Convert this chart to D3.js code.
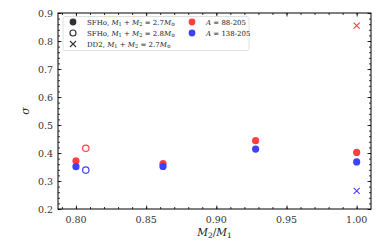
<!DOCTYPE html>
<html>
<head>
<meta charset="utf-8">
<script src="https://cdn.jsdelivr.net/npm/d3@7"></script>
<style>
  body { margin: 0; background: #fff; }
  text { font-family: "DejaVu Serif", serif; }
</style>
</head>
<body>
<div id="chart"></div>
<script>
// mass ratio M2/M1 for each run
const ratios27 = [0.800, 0.862, 0.928, 1.000];
const wide27 = [0.372, 0.362, 0.444, 0.402];    // A = 88-205
const narrow27 = [0.351, 0.352, 0.414, 0.368];  // A = 138-205
const ratios28 = [0.807];
const wide28 = [0.417];
const narrow28 = [0.339];
const ratiosDD2 = [1.000];
const wideDD2 = [0.855];
const narrowDD2 = [0.265];
const xTicks = [0.80, 0.85, 0.90, 0.95, 1.00];
const yTicks = [0.2, 0.3, 0.4, 0.5, 0.6, 0.7, 0.8, 0.9];

const width = 390, height = 244;
const margin = { left: 58, right: 19, top: 13, bottom: 35 };

const svg = d3.select('#chart').append('svg')
    .attr('width', width)
    .attr('height', height);

const x = d3.scaleLinear().domain([0.7872, 1.0102]).range([margin.left, width - margin.right]);
const y = d3.scaleLinear().domain([0.2, 0.9]).range([height - margin.bottom, margin.top]);

const red = 'rgb(255,64,64)', blue = 'rgb(64,64,255)';

// ticks on all four sides, pointing inward
const xMinor = d3.range(79, 101).map(d => d / 100);
const yMinor = d3.range(10, 46).map(d => d / 50);
const x0 = margin.left, x1 = width - margin.right, y0 = height - margin.bottom, y1 = margin.top;

function ticks(axis, values, size, tx, ty) {
    svg.append('g').attr('transform', `translate(${tx},${ty})`)
        .call(axis.tickValues(values).tickSize(size).tickFormat(''))
        .call(g => g.select('.domain').remove())
        .call(g => g.selectAll('line').attr('stroke', '#000').attr('stroke-width', 0.8));
}
ticks(d3.axisTop(x), xMinor, 2, 0, y0);
ticks(d3.axisTop(x), xTicks, 3.5, 0, y0);
ticks(d3.axisBottom(x), xMinor, 2, 0, y1);
ticks(d3.axisBottom(x), xTicks, 3.5, 0, y1);
ticks(d3.axisRight(y), yMinor, 2, x0, 0);
ticks(d3.axisRight(y), yTicks, 3.5, x0, 0);
ticks(d3.axisLeft(y), yMinor, 2, x1, 0);
ticks(d3.axisLeft(y), yTicks, 3.5, x1, 0);

// tick labels
svg.append('g').selectAll('text').data(xTicks).enter().append('text')
    .attr('x', d => x(d)).attr('y', y0 + 14)
    .attr('text-anchor', 'middle').attr('font-size', 9.5).attr('fill', '#333')
    .text(d => d.toFixed(2));
svg.append('g').selectAll('text').data(yTicks).enter().append('text')
    .attr('x', x0 - 5).attr('y', d => y(d) + 3.5)
    .attr('text-anchor', 'end').attr('font-size', 9.5).attr('fill', '#333')
    .text(d => d.toFixed(1));

// frame
svg.append('rect').attr('x', x0).attr('y', y1).attr('width', x1 - x0).attr('height', y0 - y1)
    .attr('fill', 'none').attr('stroke', '#000').attr('stroke-width', 1);

// axis labels
const xl = svg.append('text').attr('x', (x0 + x1) / 2).attr('y', 236)
    .attr('text-anchor', 'middle').attr('font-size', 10.5).attr('fill', '#222');
xl.append('tspan').attr('font-style', 'italic').text('M');
xl.append('tspan').attr('font-size', 7.5).attr('dy', 2).text('2');
xl.append('tspan').attr('dy', -2).text('/');
xl.append('tspan').attr('font-style', 'italic').text('M');
xl.append('tspan').attr('font-size', 7.5).attr('dy', 2).text('1');

svg.append('text').attr('transform', `translate(29,${(y0 + y1) / 2}) rotate(-90)`)
    .attr('text-anchor', 'middle').attr('font-size', 11).attr('font-style', 'italic')
    .attr('fill', '#222').text('σ');

// data marks
function filled(xs, ys, color) {
    svg.append('g').selectAll('circle').data(xs).enter().append('circle')
        .attr('cx', d => x(d)).attr('cy', (d, i) => y(ys[i])).attr('r', 3.6)
        .attr('fill', color);
}
function open(xs, ys, color) {
    svg.append('g').selectAll('circle').data(xs).enter().append('circle')
        .attr('cx', d => x(d)).attr('cy', (d, i) => y(ys[i])).attr('r', 3.2)
        .attr('fill', 'none').attr('stroke', color).attr('stroke-width', 1.2);
}
function cross(xs, ys, color) {
    svg.append('g').selectAll('path').data(xs).enter().append('path')
        .attr('d', (d, i) => {
            const cx = x(d), cy = y(ys[i]), s = 3;
            return `M${cx - s},${cy - s}L${cx + s},${cy + s}M${cx - s},${cy + s}L${cx + s},${cy - s}`;
        })
        .attr('stroke', color).attr('stroke-width', 1.1).attr('fill', 'none');
}
filled(ratios27, wide27, red);
filled(ratios27, narrow27, blue);
open(ratios28, wide28, red);
open(ratios28, narrow28, blue);
cross(ratiosDD2, wideDD2, red);
cross(ratiosDD2, narrowDD2, blue);

// legend
const lg = svg.append('g');
lg.append('rect').attr('x', 63).attr('y', 16.5).attr('width', 186).attr('height', 34)
    .attr('rx', 2).attr('fill', '#fff').attr('fill-opacity', 0.8)
    .attr('stroke', '#d8d8d8').attr('stroke-width', 0.8);

const rows = [22, 33, 44];
lg.append('circle').attr('cx', 73).attr('cy', rows[0]).attr('r', 3.4).attr('fill', '#333');
lg.append('circle').attr('cx', 73).attr('cy', rows[1]).attr('r', 3).attr('fill', 'none')
    .attr('stroke', '#333').attr('stroke-width', 1.2);
lg.append('path').attr('d', `M70,${rows[2] - 3}L76,${rows[2] + 3}M70,${rows[2] + 3}L76,${rows[2] - 3}`)
    .attr('stroke', '#333').attr('stroke-width', 1.1);
lg.append('circle').attr('cx', 192).attr('cy', rows[0]).attr('r', 3.4).attr('fill', red);
lg.append('circle').attr('cx', 192).attr('cy', rows[1]).attr('r', 3.4).attr('fill', blue);

const eosLabels = [['SFHo, ', '2.7'], ['SFHo, ', '2.8'], ['DD2, ', '2.7']];
eosLabels.forEach((lab, i) => {
    const t = lg.append('text').attr('x', 87).attr('y', rows[i] + 2.5)
        .attr('font-size', 7).attr('fill', '#222');
    t.append('tspan').text(lab[0]);
    t.append('tspan').attr('font-style', 'italic').text('M');
    t.append('tspan').attr('font-size', 5).attr('dy', 1.5).text('1');
    t.append('tspan').attr('dy', -1.5).text(' + ');
    t.append('tspan').attr('font-style', 'italic').text('M');
    t.append('tspan').attr('font-size', 5).attr('dy', 1.5).text('2');
    t.append('tspan').attr('dy', -1.5).text(' = ' + lab[1]);
    t.append('tspan').attr('font-style', 'italic').text('M');
    t.append('tspan').attr('font-size', 5).attr('dy', 1.5).text('⊙');
});
const massLabels = ['88-205', '138-205'];
massLabels.forEach((lab, i) => {
    const t = lg.append('text').attr('x', 206).attr('y', rows[i] + 2.5)
        .attr('font-size', 7).attr('fill', '#222');
    t.append('tspan').attr('font-style', 'italic').text('A');
    t.append('tspan').text(' = ' + lab);
});
</script>
</body>
</html>
